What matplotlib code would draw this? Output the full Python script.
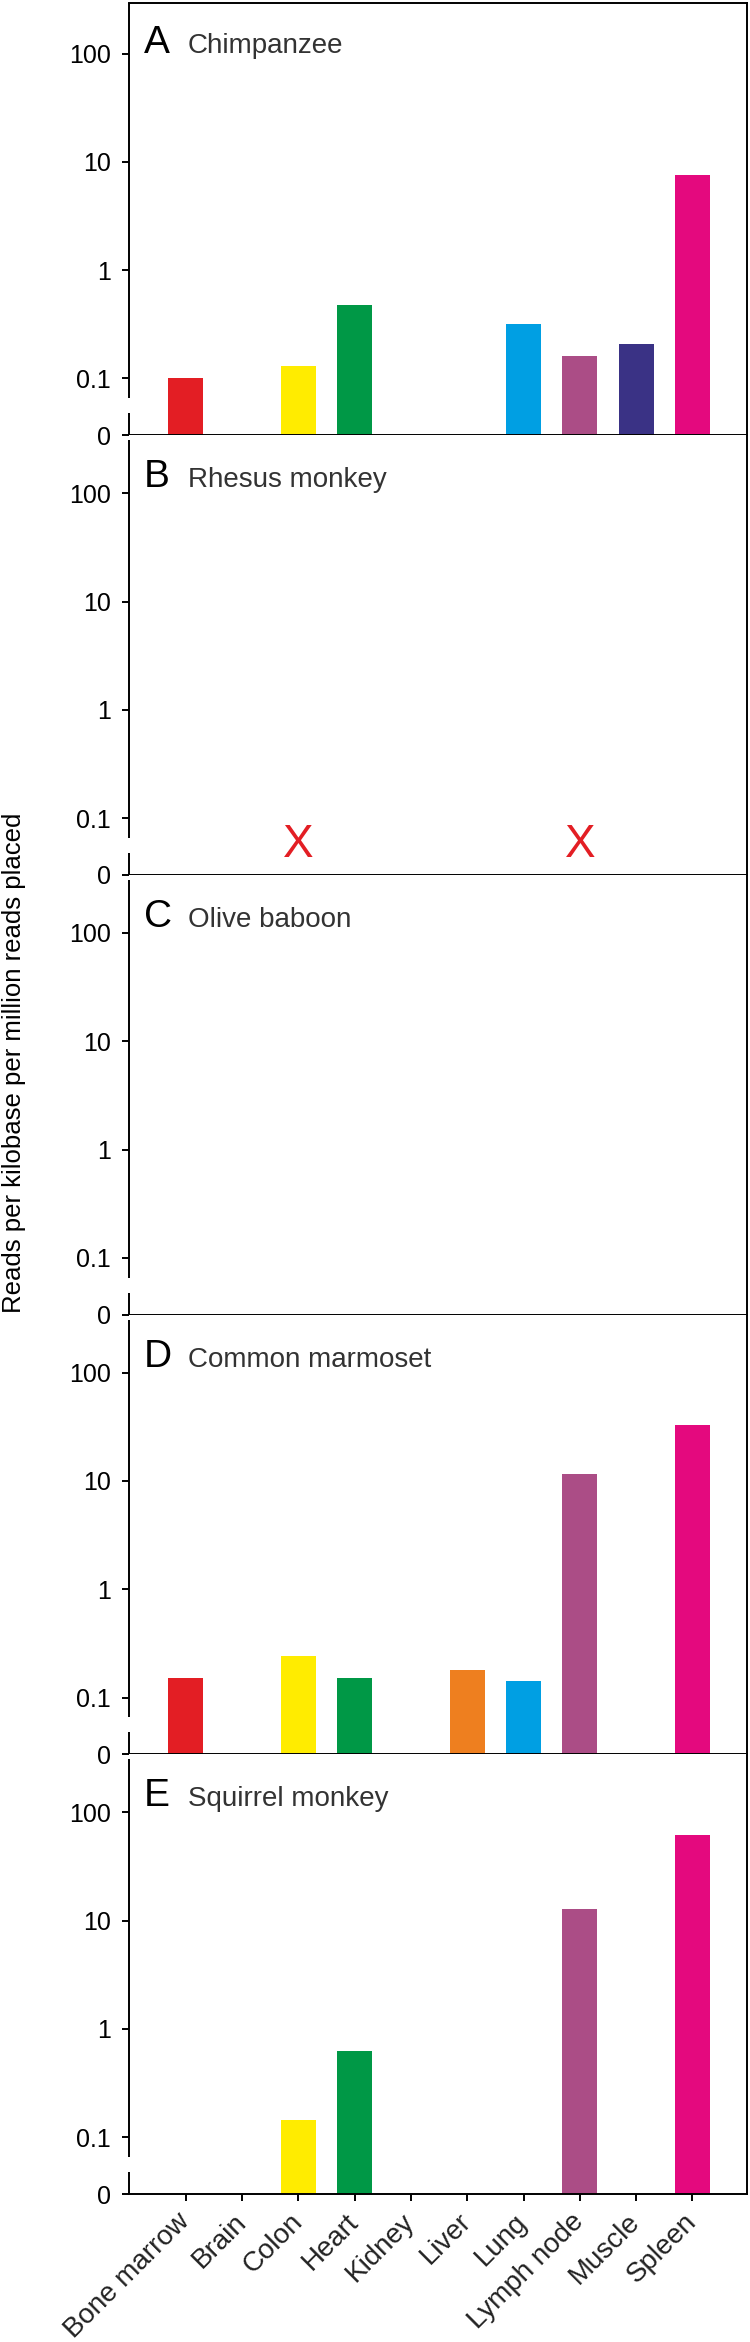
import numpy as np
import matplotlib
matplotlib.use("Agg")
import matplotlib.pyplot as plt

plt.rcParams['font.family'] = ['Liberation Sans', 'DejaVu Sans']

# data (0 = not detected)
tissues = ['Bone marrow', 'Brain', 'Colon', 'Heart', 'Kidney', 'Liver',
           'Lung', 'Lymph node', 'Muscle', 'Spleen']
tissue_colors = ['#e31e24', '#8c8c8c', '#ffec00', '#009846', '#6d6e70', '#ee7f1f',
                 '#009fe3', '#ab4d86', '#3a3285', '#e4097e']

letters = ['A', 'B', 'C', 'D', 'E']
species = ['Chimpanzee', 'Rhesus monkey', 'Olive baboon', 'Common marmoset', 'Squirrel monkey']

chimpanzee = [0.10, 0, 0.13, 0.48, 0, 0, 0.32, 0.16, 0.21, 7.6]
rhesus = [0, 0, 0, 0, 0, 0, 0, 0, 0, 0]
baboon = [0, 0, 0, 0, 0, 0, 0, 0, 0, 0]
marmoset = [0.152, 0, 0.24, 0.152, 0, 0.18, 0.141, 11.7, 0, 33.0]
squirrel = [0, 0, 0.143, 0.63, 0, 0, 0, 12.7, 0, 62.0]
rhesus_missing = ['Colon', 'Lymph node']

panel_values = [chimpanzee, rhesus, baboon, marmoset, squirrel]
panel_missing = [[], rhesus_missing, [], [], []]

# layout in pixels
W, H = 750, 2342
DEC = 108.3                      # pixels per decade
ZERO = 10 ** (-1 - 56.7 / DEC)   # where the "0" sits on the log axis
left_px, right_px = 129, 747.5
bottoms = [435.2, 874.9, 1314.6, 1754.3, 2194.0]
tops = [3.0] + bottoms[:-1]

fig = plt.figure(figsize=(W / 100, H / 100), dpi=100)
x = np.arange(len(tissues))
lw = 1.4

for i in range(5):
    hpx = bottoms[i] - tops[i]
    ax = fig.add_axes([left_px / W, 1 - bottoms[i] / H,
                       (right_px - left_px) / W, hpx / H])
    ax.set_yscale('log')
    ytop = ZERO * 10 ** (hpx / DEC)
    ax.set_ylim(ZERO, ytop)
    ax.set_xlim(-1.01, 9.98)

    vals = np.array(panel_values[i], dtype=float)
    m = vals > 0
    ax.bar(x[m], vals[m] - ZERO, bottom=ZERO, width=0.62,
           color=[tissue_colors[k] for k in np.where(m)[0]], zorder=2)

    for t in panel_missing[i]:
        ax.text(tissues.index(t), ZERO * 10 ** (30 / DEC), 'X', color='#e31e24',
                fontsize=33, ha='center', va='center')

    # spines
    for s in ['left', 'top']:
        ax.spines[s].set_visible(False)
    if i == 0:
        ax.spines['top'].set_visible(True)
        ax.spines['top'].set_linewidth(lw)
    for s in ['bottom', 'right']:
        ax.spines[s].set_linewidth(lw)
    # broken left axis
    tr = ax.get_yaxis_transform()
    upper_top = ytop if i == 0 else ZERO * 10 ** ((hpx - 5) / DEC)
    ax.plot([0, 0], [ZERO, 10 ** (-1 - 34.7 / DEC)], transform=tr, color='k',
            lw=lw, clip_on=False, solid_capstyle='butt')
    ax.plot([0, 0], [10 ** (-1 - 19.7 / DEC), upper_top], transform=tr, color='k',
            lw=lw, clip_on=False, solid_capstyle='butt')

    ax.set_yticks([ZERO, 0.1, 1, 10, 100])
    ax.set_yticklabels(['0', '0.1', '1', '10', '100'])
    ax.yaxis.set_minor_locator(matplotlib.ticker.NullLocator())
    ax.tick_params(axis='y', length=5.2, width=lw, labelsize=18, pad=8)
    ax.set_xticks(x)
    ax.tick_params(axis='x', length=5.2, width=lw, direction='out')
    if i == 4:
        ax.set_xticklabels(tissues, rotation=45, ha='right', va='center',
                           rotation_mode='anchor', fontsize=20, color='#222222')
        ax.tick_params(axis='x', pad=12)
    else:
        ax.set_xticklabels([])

    # panel letter and species
    base = 1 - (tops[i] + (50 if i == 0 else 52)) / H
    fig.text(144 / W, base, letters[i], fontsize=28, va='baseline', ha='left')
    fig.text(188 / W, base, species[i], fontsize=20, va='baseline', ha='left',
             color='#333333')

fig.text(14 / W, 1 - 1063 / H, 'Reads per kilobase per million reads placed',
         rotation=90, fontsize=18.5, ha='center', va='center')

fig.savefig('out.png', dpi=100)
